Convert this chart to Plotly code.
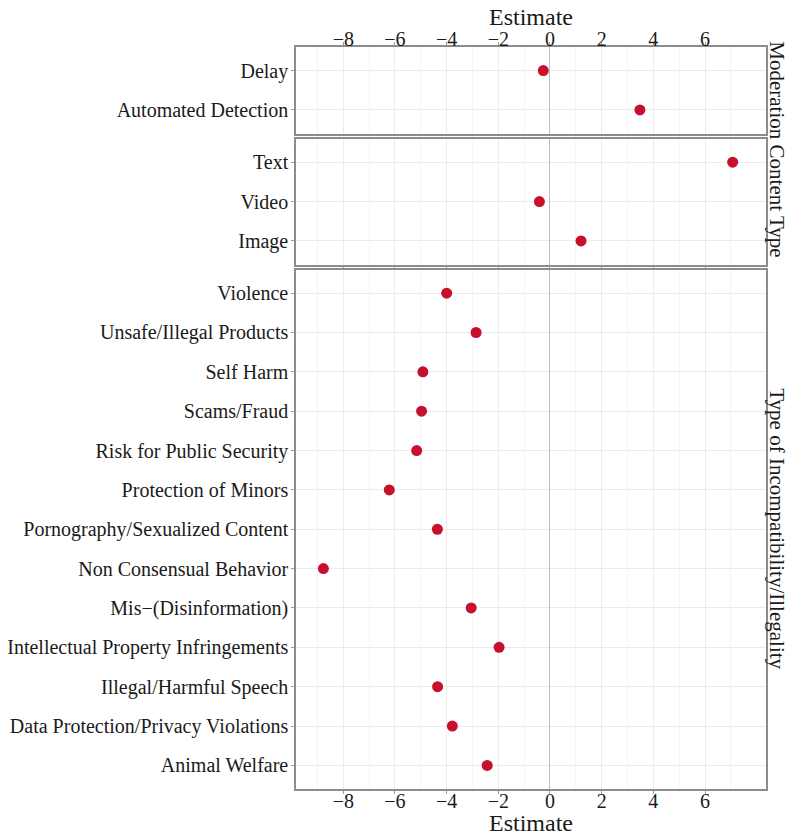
import plotly.graph_objects as go
from plotly.subplots import make_subplots

moderation = ["Delay", "Automated Detection"]
moderation_est = [-0.26, 3.48]

content_type = ["Text", "Video", "Image"]
content_est = [7.07, -0.41, 1.20]

incompat = [
    "Violence",
    "Unsafe/Illegal Products",
    "Self Harm",
    "Scams/Fraud",
    "Risk for Public Security",
    "Protection of Minors",
    "Pornography/Sexualized Content",
    "Non Consensual Behavior",
    "Mis\u2212(Disinformation)",
    "Intellectual Property Infringements",
    "Illegal/Harmful Speech",
    "Data Protection/Privacy Violations",
    "Animal Welfare",
]
incompat_est = [-4.00, -2.86, -4.92, -4.97, -5.16, -6.22, -4.36, -8.77,
                -3.05, -1.97, -4.35, -3.78, -2.43]

x_ticks = [-8, -6, -4, -2, 0, 2, 4, 6]
x_labels = ["\u22128", "\u22126", "\u22124", "\u22122", "0", "2", "4", "6"]

strips = ["Moderation", "Content Type", "Type of Incompatibility/Illegality"]
panels = [(moderation, moderation_est), (content_type, content_est), (incompat, incompat_est)]

font = "Liberation Serif, Times New Roman, serif"
dot_color = "#c8102e"
border = "#8c8c8c"
ink = "#1a1a1a"

units = [len(c) - 1 + 1.2 for c, _ in panels]
fig = make_subplots(rows=3, cols=1, shared_xaxes=True,
                    vertical_spacing=5 / 742, row_heights=units)

for i, (cats, vals) in enumerate(panels, start=1):
    fig.add_trace(go.Scatter(x=vals, y=cats, mode="markers",
                             marker=dict(color=dot_color, size=11),
                             showlegend=False), row=i, col=1)
    fig.update_yaxes(row=i, col=1, type="category", categoryorder="array",
                     categoryarray=cats, range=[len(cats) - 0.4, -0.6],
                     showgrid=True, gridcolor="#ebebeb", gridwidth=1,
                     ticks="outside", ticklen=3, tickcolor="#9a9a9a",
                     showline=True, linecolor=border, linewidth=1.5, mirror=True,
                     ticklabelstandoff=-1,
                     automargin=False, tickfont=dict(size=20, color=ink))
    fig.update_xaxes(row=i, col=1, range=[-9.83, 8.36],
                     tickmode="array", tickvals=x_ticks, ticktext=x_labels,
                     showgrid=True, gridcolor="#ebebeb", gridwidth=1,
                     minor=dict(tickmode="linear", tick0=1, dtick=2, showgrid=True,
                                gridcolor="#f4f4f4", gridwidth=0.6),
                     zeroline=True, zerolinecolor="#bdbdbd", zerolinewidth=1.2,
                     showline=True, linecolor=border, linewidth=1.5, mirror=True,
                     ticks="outside", ticklen=3, tickcolor="#9a9a9a",
                     ticklabelstandoff=-10,
                     automargin=False, tickfont=dict(size=20, color=ink))

fig.update_xaxes(row=1, col=1, side="top", showticklabels=True, ticklabelstandoff=-12)

# axis titles, top and bottom
fig.add_annotation(text="Estimate", xref="paper", yref="paper", x=0.5, y=1.040,
                   xanchor="center", yanchor="middle", showarrow=False,
                   font=dict(size=24, color=ink))
fig.add_annotation(text="Estimate", xref="paper", yref="paper", x=0.5, y=-0.0455,
                   xanchor="center", yanchor="middle", showarrow=False,
                   font=dict(size=24, color=ink))

# facet strip labels on the right
for i, label in enumerate(strips, start=1):
    yref = "y domain" if i == 1 else f"y{i} domain"
    fig.add_annotation(text=label, xref="paper", yref=yref, x=1.0234, y=0.5,
                       xanchor="center", yanchor="middle", textangle=90,
                       showarrow=False, font=dict(size=21, color=ink))

fig.update_layout(
    width=789, height=838,
    margin=dict(l=296, r=23, t=47, b=49, autoexpand=False),
    plot_bgcolor="white", paper_bgcolor="white",
    font=dict(family=font, color=ink),
)

# drop the page's default body margin so the figure sits at the window corner
fig.write_html("out.html", config={"displayModeBar": False},
               post_script="document.body.style.margin = '0';")
